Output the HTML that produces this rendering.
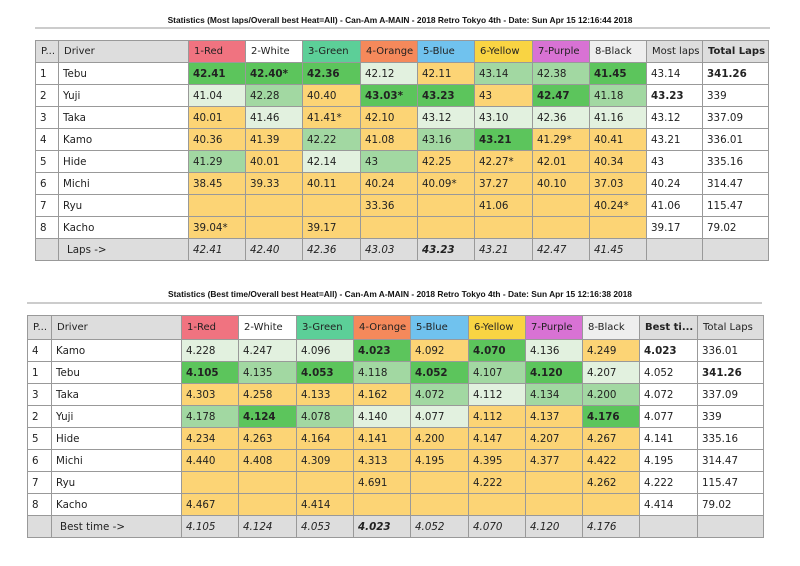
<!DOCTYPE html>
<html><head><meta charset="utf-8"><style>
body{margin:0;width:800px;height:566px;background:#fff;position:relative;overflow:hidden;font-family:"DejaVu Sans","Liberation Sans",sans-serif;}
.title{position:absolute;left:0;width:800px;text-align:center;font:bold 8.4px "Liberation Sans",sans-serif;color:#111;}
.rule{position:absolute;height:2px;background:#ccc;}
table{position:absolute;border-collapse:collapse;table-layout:fixed;font-size:10.3px;color:#222;}
td{border:1px solid #999;padding:0 0 0 4px;white-space:nowrap;overflow:hidden;height:21px;}
tr.h td{background:#ddd;font-size:10px;padding-left:5px;}
.G{background:#5cc55c;}.M{background:#a2d8a2;}.L{background:#e2f1df;}.Y{background:#fcd475;}
.b{font-weight:bold;}
tr.f td{background:#ddd;font-style:italic;}
.cR{background:#f07380!important}.cW{background:#fff!important}.cG{background:#5ccf98!important}.cO{background:#f5895b!important}.cB{background:#70c2ee!important}.cY{background:#f9d443!important}.cP{background:#d872d4!important}.cK{background:#eee!important}
</style></head><body>
<div class="title" style="top:15px">Statistics (Most laps/Overall best Heat=All) - Can-Am A-MAIN - 2018 Retro Tokyo 4th - Date: Sun Apr 15 12:16:44 2018</div>
<div class="rule" style="top:27px;left:35px;width:735px"></div>
<table style="left:35px;top:40px;width:733px">
<colgroup><col style="width:23px"><col style="width:130px"><col style="width:57px"><col style="width:57px"><col style="width:58px"><col style="width:57px"><col style="width:57px"><col style="width:58px"><col style="width:57px"><col style="width:57px"><col style="width:56px"><col style="width:66px"></colgroup>
<tr class="h"><td>P...</td><td>Driver</td><td class="cR">1-Red</td><td class="cW">2-White</td><td class="cG">3-Green</td><td class="cO">4-Orange</td><td class="cB">5-Blue</td><td class="cY">6-Yellow</td><td class="cP">7-Purple</td><td class="cK">8-Black</td><td>Most laps</td><td class="b">Total Laps</td></tr>
<tr><td>1</td><td>Tebu</td><td class="G b">42.41</td><td class="G b">42.40*</td><td class="G b">42.36</td><td class="L">42.12</td><td class="Y">42.11</td><td class="M">43.14</td><td class="M">42.38</td><td class="G b">41.45</td><td>43.14</td><td class="b">341.26</td></tr>
<tr><td>2</td><td>Yuji</td><td class="L">41.04</td><td class="M">42.28</td><td class="Y">40.40</td><td class="G b">43.03*</td><td class="G b">43.23</td><td class="Y">43</td><td class="G b">42.47</td><td class="M">41.18</td><td class="b">43.23</td><td>339</td></tr>
<tr><td>3</td><td>Taka</td><td class="Y">40.01</td><td class="L">41.46</td><td class="Y">41.41*</td><td class="Y">42.10</td><td class="L">43.12</td><td class="L">43.10</td><td class="L">42.36</td><td class="L">41.16</td><td>43.12</td><td>337.09</td></tr>
<tr><td>4</td><td>Kamo</td><td class="Y">40.36</td><td class="Y">41.39</td><td class="M">42.22</td><td class="Y">41.08</td><td class="M">43.16</td><td class="G b">43.21</td><td class="Y">41.29*</td><td class="Y">40.41</td><td>43.21</td><td>336.01</td></tr>
<tr><td>5</td><td>Hide</td><td class="M">41.29</td><td class="Y">40.01</td><td class="L">42.14</td><td class="M">43</td><td class="Y">42.25</td><td class="Y">42.27*</td><td class="Y">42.01</td><td class="Y">40.34</td><td>43</td><td>335.16</td></tr>
<tr><td>6</td><td>Michi</td><td class="Y">38.45</td><td class="Y">39.33</td><td class="Y">40.11</td><td class="Y">40.24</td><td class="Y">40.09*</td><td class="Y">37.27</td><td class="Y">40.10</td><td class="Y">37.03</td><td>40.24</td><td>314.47</td></tr>
<tr><td>7</td><td>Ryu</td><td class="Y"></td><td class="Y"></td><td class="Y"></td><td class="Y">33.36</td><td class="Y"></td><td class="Y">41.06</td><td class="Y"></td><td class="Y">40.24*</td><td>41.06</td><td>115.47</td></tr>
<tr><td>8</td><td>Kacho</td><td class="Y">39.04*</td><td class="Y"></td><td class="Y">39.17</td><td class="Y"></td><td class="Y"></td><td class="Y"></td><td class="Y"></td><td class="Y"></td><td>39.17</td><td>79.02</td></tr>
<tr class="f"><td></td><td style="font-style:normal;padding-left:8px">Laps -&gt;</td><td>42.41</td><td>42.40</td><td>42.36</td><td>43.03</td><td class="b">43.23</td><td>43.21</td><td>42.47</td><td>41.45</td><td></td><td></td></tr>
</table>

<div class="title" style="top:289px">Statistics (Best time/Overall best Heat=All) - Can-Am A-MAIN - 2018 Retro Tokyo 4th - Date: Sun Apr 15 12:16:38 2018</div>
<div class="rule" style="top:302px;left:27px;width:735px"></div>
<table style="left:27px;top:315px;width:736px">
<colgroup><col style="width:24px"><col style="width:130px"><col style="width:57px"><col style="width:58px"><col style="width:57px"><col style="width:57px"><col style="width:58px"><col style="width:57px"><col style="width:57px"><col style="width:57px"><col style="width:58px"><col style="width:66px"></colgroup>
<tr class="h"><td style="height:23px">P...</td><td>Driver</td><td class="cR">1-Red</td><td class="cW">2-White</td><td class="cG">3-Green</td><td class="cO">4-Orange</td><td class="cB">5-Blue</td><td class="cY">6-Yellow</td><td class="cP">7-Purple</td><td class="cK">8-Black</td><td class="b">Best ti...</td><td>Total Laps</td></tr>
<tr><td>4</td><td>Kamo</td><td class="L">4.228</td><td class="L">4.247</td><td class="L">4.096</td><td class="G b">4.023</td><td class="Y">4.092</td><td class="G b">4.070</td><td class="L">4.136</td><td class="Y">4.249</td><td class="b">4.023</td><td>336.01</td></tr>
<tr><td>1</td><td>Tebu</td><td class="G b">4.105</td><td class="M">4.135</td><td class="G b">4.053</td><td class="M">4.118</td><td class="G b">4.052</td><td class="M">4.107</td><td class="G b">4.120</td><td class="L">4.207</td><td>4.052</td><td class="b">341.26</td></tr>
<tr><td>3</td><td>Taka</td><td class="Y">4.303</td><td class="Y">4.258</td><td class="Y">4.133</td><td class="Y">4.162</td><td class="M">4.072</td><td class="L">4.112</td><td class="M">4.134</td><td class="M">4.200</td><td>4.072</td><td>337.09</td></tr>
<tr><td>2</td><td>Yuji</td><td class="M">4.178</td><td class="G b">4.124</td><td class="M">4.078</td><td class="L">4.140</td><td class="L">4.077</td><td class="Y">4.112</td><td class="Y">4.137</td><td class="G b">4.176</td><td>4.077</td><td>339</td></tr>
<tr><td>5</td><td>Hide</td><td class="Y">4.234</td><td class="Y">4.263</td><td class="Y">4.164</td><td class="Y">4.141</td><td class="Y">4.200</td><td class="Y">4.147</td><td class="Y">4.207</td><td class="Y">4.267</td><td>4.141</td><td>335.16</td></tr>
<tr><td>6</td><td>Michi</td><td class="Y">4.440</td><td class="Y">4.408</td><td class="Y">4.309</td><td class="Y">4.313</td><td class="Y">4.195</td><td class="Y">4.395</td><td class="Y">4.377</td><td class="Y">4.422</td><td>4.195</td><td>314.47</td></tr>
<tr><td>7</td><td>Ryu</td><td class="Y"></td><td class="Y"></td><td class="Y"></td><td class="Y">4.691</td><td class="Y"></td><td class="Y">4.222</td><td class="Y"></td><td class="Y">4.262</td><td>4.222</td><td>115.47</td></tr>
<tr><td>8</td><td>Kacho</td><td class="Y">4.467</td><td class="Y"></td><td class="Y">4.414</td><td class="Y"></td><td class="Y"></td><td class="Y"></td><td class="Y"></td><td class="Y"></td><td>4.414</td><td>79.02</td></tr>
<tr class="f"><td></td><td style="font-style:normal;padding-left:8px">Best time -&gt;</td><td>4.105</td><td>4.124</td><td>4.053</td><td class="b">4.023</td><td>4.052</td><td>4.070</td><td>4.120</td><td>4.176</td><td></td><td></td></tr>
</table>
</body></html>
